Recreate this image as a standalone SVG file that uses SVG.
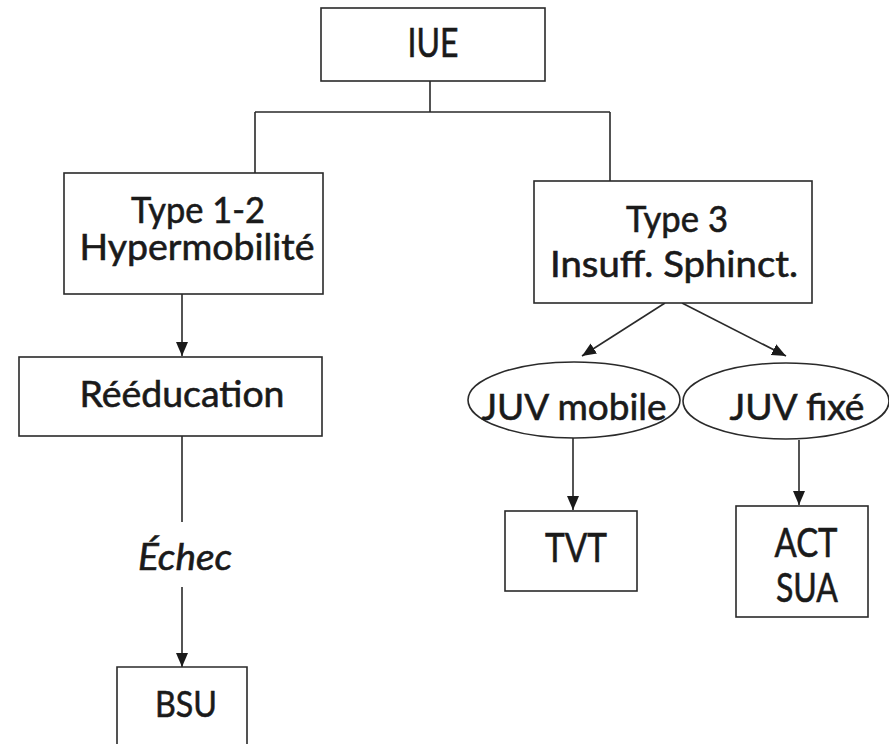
<svg xmlns="http://www.w3.org/2000/svg" width="889" height="744" viewBox="0 0 889 744">
<defs>
<style>
.box{fill:#fff;stroke:#2a2a2a;stroke-width:1.6}
.ln{fill:none;stroke:#2a2a2a;stroke-width:1.6}
.t{font-family:Lato,"Open Sans","DejaVu Sans",sans-serif;font-size:37px;fill:#1a1a1a;stroke:#1a1a1a;stroke-width:0.6;text-anchor:middle}
.big{font-size:40px}
.i{font-style:italic}
</style>
<marker id="ah" viewBox="0 0 14 12" refX="14" refY="6" markerWidth="14" markerHeight="14" markerUnits="userSpaceOnUse" orient="auto">
<path d="M0,0 L14,6 L0,12 Z" fill="#1a1a1a"/>
</marker>
</defs>
<rect width="889" height="744" fill="#fff"/>
<g id="connectors">
<path class="ln" d="M430,81 V112 M255,112 H610 M255,112 V173 M610,112 V181"/>
<line class="ln" x1="182" y1="294" x2="182" y2="356" marker-end="url(#ah)"/>
<line class="ln" x1="182" y1="436" x2="182" y2="522"/>
<line class="ln" x1="182" y1="587" x2="182" y2="667" marker-end="url(#ah)"/>
<line class="ln" x1="665" y1="303" x2="582" y2="356" marker-end="url(#ah)"/>
<line class="ln" x1="682" y1="303" x2="786" y2="356" marker-end="url(#ah)"/>
<line class="ln" x1="573" y1="438" x2="573" y2="510" marker-end="url(#ah)"/>
<line class="ln" x1="799" y1="440" x2="799" y2="505" marker-end="url(#ah)"/>
</g>
<g id="iue">
<rect class="box" x="321" y="8" width="224" height="73"/>
<text class="t big" x="433" y="57" textLength="51" lengthAdjust="spacingAndGlyphs">IUE</text>
</g>
<g id="type12">
<rect class="box" x="64" y="173" width="259" height="121"/>
<text class="t" x="198" y="223" textLength="134" lengthAdjust="spacingAndGlyphs">Type 1-2</text>
<text class="t" x="197" y="260" textLength="235" lengthAdjust="spacingAndGlyphs">Hypermobilité</text>
</g>
<g id="type3">
<rect class="box" x="534" y="181" width="278" height="122"/>
<text class="t" x="677" y="232" textLength="102" lengthAdjust="spacingAndGlyphs">Type 3</text>
<text class="t" x="674" y="277" textLength="248" lengthAdjust="spacingAndGlyphs">Insuff. Sphinct.</text>
</g>
<g id="reeducation">
<rect class="box" x="19" y="357" width="303" height="79"/>
<text class="t" x="182" y="407" textLength="205" lengthAdjust="spacingAndGlyphs">Rééducation</text>
</g>
<g id="echec">
<text class="t i" x="185" y="570" textLength="94" lengthAdjust="spacingAndGlyphs">Échec</text>
</g>
<g id="bsu">
<path class="box" d="M117,746 V667 H247 V746"/>
<text class="t" x="186" y="717" textLength="62" lengthAdjust="spacingAndGlyphs">BSU</text>
</g>
<g id="juvmobile">
<ellipse class="box" cx="574" cy="400" rx="106" ry="38"/>
<text class="t" x="574" y="420" textLength="185" lengthAdjust="spacingAndGlyphs">JUV mobile</text>
</g>
<g id="juvfixe">
<ellipse class="box" cx="786" cy="401" rx="103" ry="38"/>
<text class="t" x="797" y="420" textLength="135" lengthAdjust="spacingAndGlyphs">JUV fixé</text>
</g>
<g id="tvt">
<rect class="box" x="505" y="511" width="132" height="80"/>
<text class="t big" x="576" y="562" textLength="62" lengthAdjust="spacingAndGlyphs">TVT</text>
</g>
<g id="actsua">
<rect class="box" x="736" y="506" width="132" height="111"/>
<text class="t big" x="806" y="557" textLength="63" lengthAdjust="spacingAndGlyphs">ACT</text>
<text class="t big" x="807" y="602" textLength="62" lengthAdjust="spacingAndGlyphs">SUA</text>
</g>
</svg>
